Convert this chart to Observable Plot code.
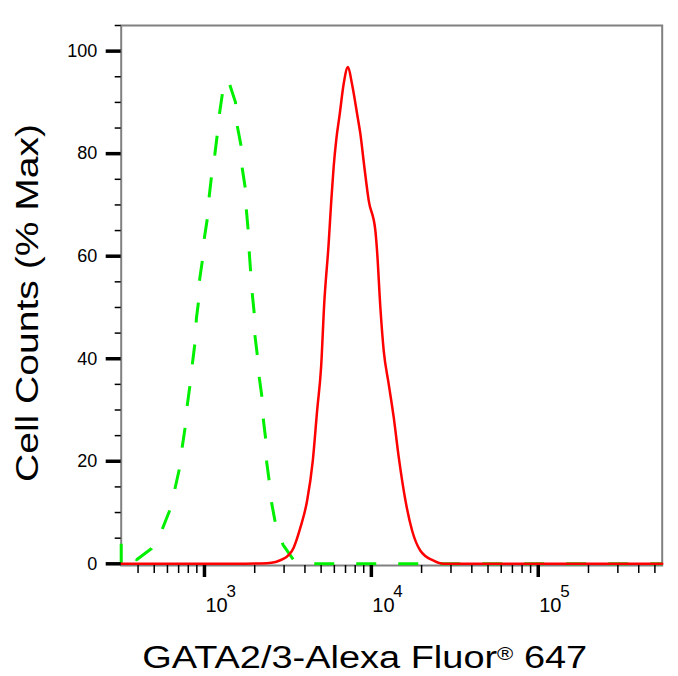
<!DOCTYPE html>
<html>
<head>
<meta charset="utf-8">
<script src="https://cdn.jsdelivr.net/npm/d3@7"></script>
<script src="https://cdn.jsdelivr.net/npm/@observablehq/plot@0.6"></script>
<style>
  html, body { margin: 0; padding: 0; background: #fff; overflow: hidden; }
  svg { display: block; }
</style>
</head>
<body>
<div id="chart"></div>
<script>
// Isotype control (green dashed)
const greenX = [317, 317, 392, 482, 553, 617, 664, 706, 735, 766, 787, 817, 847, 875, 895, 920, 933, 973, 1000, 1042, 1067, 1102, 1153, 1191, 1230, 1282, 1356, 1419, 1535, 1570, 1660, 1683, 1754, 1782, 1828, 1854, 1892, 1932, 1986, 2000, 2075, 2133, 2213, 2254, 2328, 2360, 2449, 2529, 2661, 2958, 3412, 4000, 553000];
const greenY = [0, 4.0, 0.8, 3.0, 6.4, 10.3, 14.5, 18.4, 22.7, 26.6, 30.7, 34.6, 39.1, 42.8, 47.9, 51.0, 55.2, 59.3, 63.7, 67.5, 71.6, 75.6, 79.8, 83.5, 87.8, 91.8, 94.5, 93.4, 90.0, 85.5, 81.4, 77.2, 73.4, 69.1, 65.0, 60.9, 56.9, 52.8, 48.9, 44.9, 40.6, 36.2, 32.4, 28.1, 24.3, 19.8, 15.9, 11.8, 7.9, 3.7, 0.8, 0, 0];
// GATA2/3 stained (red solid)
const redX = [317, 1500, 2371, 2985, 3428, 3758, 4121, 4457, 4732, 5000, 5220, 5546, 5754, 5943, 6166, 6457, 6823, 7244, 7656, 8279, 8590, 9078, 9638, 10570, 10815, 11324, 11858, 12700, 13610, 14590, 15995, 17540, 19630, 23590, 27100, 553000];
const redY = [0, 0, 0.1, 1.0, 3.2, 7.1, 12.3, 20.1, 29.9, 38.4, 50.8, 62.4, 70.9, 77.4, 82.8, 87.6, 93.6, 96.9, 93.6, 87.1, 83.9, 77.4, 70.9, 65.0, 61.1, 50.0, 41.6, 35.1, 28.6, 20.8, 12.4, 6.5, 2.6, 0.6, 0, 0];

const xMajor = [1000, 10000, 100000];
const xMajorBase = ["10", "10", "10"];
const xMajorExp = ["3", "4", "5"];
const xMinor = [400, 500, 600, 700, 800, 900, 2000, 3000, 4000, 5000, 6000, 7000, 8000, 9000, 20000, 30000, 40000, 50000, 60000, 70000, 80000, 90000, 200000, 300000, 400000, 500000];
const yMajor = [0, 20, 40, 60, 80, 100];
const yMinor = [5, 10, 15, 25, 30, 35, 45, 50, 55, 65, 70, 75, 85, 90, 95, 105];

const xTitle = "GATA2/3-Alexa Fluor® 647";
const yTitle = "Cell Counts (% Max)";

const green = greenX.map((x, i) => ({x, y: greenY[i]}));
const red = redX.map((x, i) => ({x, y: redY[i]}));
const majorLabels = xMajor.map((v, i) => ({v, base: xMajorBase[i], exp: xMajorExp[i]}));

const chart = Plot.plot({
  width: 678,
  height: 676,
  marginLeft: 120.7,
  marginRight: 16.3,
  marginTop: 25,
  marginBottom: 111,
  style: {fontFamily: "'Liberation Sans', Arial, sans-serif", fontSize: "18px", background: "#fff", color: "#000"},
  x: {type: "log", domain: [317, 553000]},
  y: {domain: [-0.33, 105]},
  marks: [
    Plot.frame({stroke: "#808080", strokeWidth: 2}),
    Plot.line(green, {x: "x", y: "y", stroke: "#00f000", strokeWidth: 3, strokeDasharray: "20,22", strokeLinecap: "butt", strokeLinejoin: "round"}),
    Plot.line(red, {x: "x", y: "y", stroke: "#ff0000", strokeWidth: 2.5, curve: "monotone-x"}),
    Plot.axisY(yMinor, {anchor: "left", tickSize: 6, strokeWidth: 1.5, tickFormat: () => "", label: null}),
    Plot.axisY(yMajor, {anchor: "left", tickSize: 15, strokeWidth: 3.5, tickPadding: 9, fontSize: 18, label: null}),
    Plot.axisX(xMinor, {anchor: "bottom", tickSize: 8, strokeWidth: 1.5, tickFormat: () => "", label: null}),
    Plot.axisX(xMajor, {anchor: "bottom", tickSize: 12, strokeWidth: 3.5, tickFormat: () => "", label: null}),
    Plot.text(majorLabels, {x: "v", text: "base", frameAnchor: "bottom", textAnchor: "start", lineAnchor: "middle", dx: 1, dy: 40, fontSize: 20, fill: "#000"}),
    Plot.text(majorLabels, {x: "v", text: "exp", frameAnchor: "bottom", textAnchor: "start", lineAnchor: "middle", dx: 22, dy: 25.6, fontSize: 17, fill: "#000"}),
    Plot.text([yTitle], {text: d => d, frameAnchor: "left", rotate: -90, textAnchor: "middle", lineAnchor: "middle", dx: -93.2, dy: 7.5, fontSize: 31, fill: "#000"}),
    Plot.text([xTitle], {text: d => d, frameAnchor: "bottom", textAnchor: "middle", lineAnchor: "middle", dx: -27, dy: 93, fontSize: 31, fill: "#000"})
  ]
});

document.getElementById("chart").appendChild(chart);

const svg = d3.select(chart);
svg.selectAll("text").filter(function () { return this.textContent === yTitle; })
  .attr("textLength", 358).attr("lengthAdjust", "spacingAndGlyphs");
svg.selectAll("text").filter(function () { return this.textContent === xTitle; })
  .each(function () {
    const t = d3.select(this);
    const parts = xTitle.split("®");
    t.text(null);
    t.append("tspan").text(parts[0]);
    t.append("tspan").attr("font-size", "58%").attr("dy", -8).text("®");
    t.append("tspan").attr("dy", 8).text(parts[1]);
    t.attr("textLength", 445).attr("lengthAdjust", "spacingAndGlyphs");
  });
</script>
</body>
</html>
